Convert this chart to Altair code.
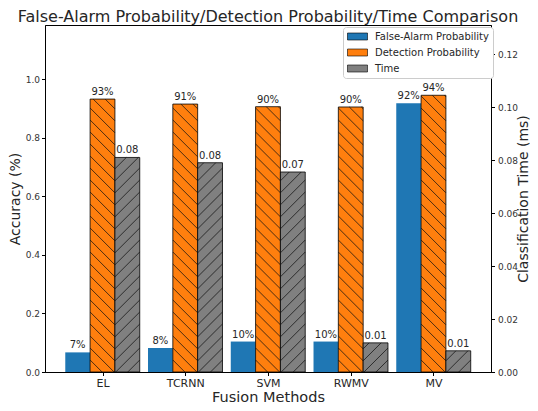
import altair as alt
import pandas as pd

# ---------------- data ----------------
categories = ["EL", "TCRNN", "SVM", "RWMV", "MV"]
false_alarm = [0.067, 0.082, 0.104, 0.104, 0.918]
detection = [0.932, 0.915, 0.906, 0.905, 0.945]
time_ms = [0.081, 0.079, 0.0755, 0.0110, 0.0080]
fa_labels = ["7%", "8%", "10%", "10%", "92%"]
det_labels = ["93%", "91%", "90%", "90%", "94%"]
time_labels = ["0.08", "0.08", "0.07", "0.01", "0.01"]
series_names = ["False-Alarm Probability", "Detection Probability", "Time"]
series_colors = ["#1f77b4", "#ff7f0e", "#808080"]

# ---------------- layout ----------------
W, H = 446, 347
X_DOM = [-0.695, 4.695]
YL_DOM = [0, 1.185]
YR_DOM = [0, 0.131]
BAR_W = 0.3
OFFSETS = [-0.3, 0.0, 0.3]
HATCH = 12.0
PX_X = W / (X_DOM[1] - X_DOM[0])
PPU_L = H / (YL_DOM[1] - YL_DOM[0])
PPU_R = H / (YR_DOM[1] - YR_DOM[0])
FONT = "DejaVu Sans"
TXT = "#262626"


def bars_df(vals, labels, j):
    rows = []
    for i, (c, v, l) in enumerate(zip(categories, vals, labels)):
        xc = i + OFFSETS[j]
        rows.append(dict(cat=c, series=series_names[j], xc=xc,
                         x0=xc - BAR_W / 2, x1=xc + BAR_W / 2, v=v, label=l))
    return pd.DataFrame(rows)


def hatch_df(df, ppu, direction):
    w = BAR_W * PX_X
    rows = []
    for _, r in df.iterrows():
        T = r.v * ppu
        k = 1
        while True:
            if direction == "back":  # '\\'  u = c - t
                c = k * HATCH
                if c - w >= T:
                    break
                t0, t1 = max(0.0, c - T), min(w, c)
                ua, ub = c - t0, c - t1
            else:  # '/'  u = c + t
                c = k * HATCH - w
                if c >= T:
                    break
                t0, t1 = max(0.0, -c), min(w, T - c)
                ua, ub = c + t0, c + t1
            if t1 > t0:
                rows.append(dict(xa=r.x0 + t0 / PX_X, xb=r.x0 + t1 / PX_X,
                                 ya=ua / ppu, yb=ub / ppu))
            k += 1
    return pd.DataFrame(rows)


fa_df = bars_df(false_alarm, fa_labels, 0)
det_df = bars_df(detection, det_labels, 1)
time_df = bars_df(time_ms, time_labels, 2)
det_h = hatch_df(det_df, PPU_L, "back")
time_h = hatch_df(time_df, PPU_R, "fwd")

xscale = alt.Scale(domain=X_DOM, nice=False, zero=False)
ylscale = alt.Scale(domain=YL_DOM, nice=False)
yrscale = alt.Scale(domain=YR_DOM, nice=False)

label_expr = "[" + ",".join("'%s'" % c for c in categories) + "][datum.value]"

x_axis = alt.Axis(values=list(range(len(categories))), labelExpr=label_expr,
                  title="Fusion Methods", titleFontSize=14.5, titleFontWeight="normal",
                  titleColor=TXT, titleY=29, titleBaseline="alphabetic",
                  labelFontSize=11, labelColor=TXT, grid=False, labelPadding=2,
                  tickSize=3.5, tickColor="black", domainColor="black")

yl_axis = alt.Axis(values=[0, 0.2, 0.4, 0.6, 0.8, 1.0], format=".1f",
                   title="Accuracy (%)", titleFontSize=14, titleFontWeight="normal",
                   titleColor=TXT, titleX=-30, titleY=H / 2, titleAngle=270,
                   titleAlign="center", titleBaseline="middle",
                   labelFontSize=9, labelColor="#333333", grid=False,
                   tickSize=3.5, tickColor="black", domainColor="black", labelPadding=2)

yr_axis = alt.Axis(values=[0, 0.02, 0.04, 0.06, 0.08, 0.10, 0.12], format=".2f",
                   orient="right",
                   title="Classification Time (ms)", titleFontSize=14, titleFontWeight="normal",
                   titleColor=TXT, titleX=32, titleY=H / 2, titleAngle=270,
                   titleAlign="center", titleBaseline="middle",
                   labelFontSize=9, labelColor="#333333", grid=False,
                   tickSize=3.5, tickColor="black", domainColor="black", labelPadding=3)

legend = alt.Legend(orient="none", legendX=298, legendY=2, title=None,
                    symbolType="M-1,-0.7H3V0.7H-1Z", symbolSize=100,
                    symbolStrokeColor="black", symbolStrokeWidth=0.6,
                    symbolOpacity=1,
                    labelFontSize=10, labelColor=TXT, labelOffset=17,
                    rowPadding=5, padding=4, fillColor="white",
                    strokeColor="#cccccc", cornerRadius=3)


def color_enc():
    return alt.Color("series:N",
                     scale=alt.Scale(domain=series_names, range=series_colors),
                     legend=legend)


def bar_layer(df, yscale, yaxis, stroke):
    kw = dict(stroke="black", strokeWidth=0.8) if stroke else dict(strokeWidth=0)
    return alt.Chart(df).mark_bar(opacity=1, **kw).encode(
        x=alt.X("x0:Q", scale=xscale, axis=x_axis),
        x2="x1:Q",
        y=alt.Y("v:Q", scale=yscale, axis=yaxis),
        y2=alt.datum(0),
        color=color_enc(),
    )


def hatch_layer(df, yscale, yaxis):
    return alt.Chart(df).mark_rule(color="#111111", strokeWidth=0.75).encode(
        x=alt.X("xa:Q", scale=xscale, axis=x_axis),
        x2="xb:Q",
        y=alt.Y("ya:Q", scale=yscale, axis=yaxis),
        y2="yb:Q",
    )


def text_layer(df, yscale, yaxis):
    return alt.Chart(df).mark_text(baseline="bottom", dy=-2, fontSize=10,
                                   color=TXT, font=FONT).encode(
        x=alt.X("xc:Q", scale=xscale, axis=x_axis),
        y=alt.Y("v:Q", scale=yscale, axis=yaxis),
        text="label:N",
    )


left = alt.layer(
    bar_layer(fa_df, ylscale, yl_axis, False),
    bar_layer(det_df, ylscale, yl_axis, True),
    hatch_layer(det_h, ylscale, yl_axis),
    text_layer(fa_df, ylscale, yl_axis),
    text_layer(det_df, ylscale, yl_axis),
)

right = alt.layer(
    bar_layer(time_df, yrscale, yr_axis, True),
    hatch_layer(time_h, yrscale, yr_axis),
    text_layer(time_df, yrscale, yr_axis),
)

chart = alt.layer(left, right).resolve_scale(y="independent").properties(
    width=W, height=H,
    autosize=alt.AutoSizeParams(type="none"),
    padding={"left": 37, "top": 17, "right": 39, "bottom": 31},
    title=alt.Title("False-Alarm Probability/Detection Probability/Time Comparison",
                    fontSize=16, fontWeight="normal", color=TXT, font=FONT,
                    anchor="middle", offset=1, baseline="bottom", dy=16.5),
).configure(font=FONT).configure_view(stroke="black", strokeWidth=1)

chart.save("out.html", embed_options={"renderer": "svg", "actions": False})
